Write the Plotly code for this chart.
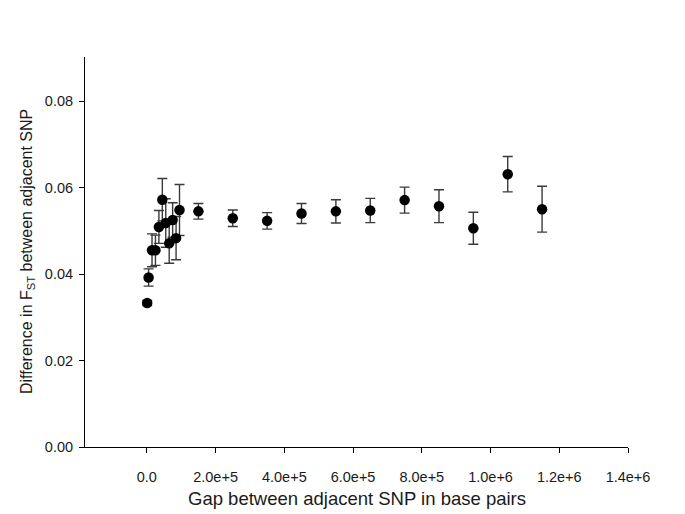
import plotly.graph_objects as go

# Data
gap_bp = [1000, 5000, 15000, 25000, 35000, 45000, 55000, 65000, 75000, 85000, 95000,
          150000, 250000, 350000, 450000, 550000, 650000, 750000, 850000, 950000,
          1050000, 1150000]
fst_diff = [0.0333, 0.0392, 0.0455, 0.0455, 0.0509, 0.0572, 0.0518, 0.0471, 0.0525,
            0.0483, 0.0548, 0.0545, 0.0529, 0.0523, 0.0540, 0.0545, 0.0547, 0.0571,
            0.0557, 0.0506, 0.0631, 0.0550]
fst_err = [0.0006, 0.0020, 0.0038, 0.0035, 0.0038, 0.0049, 0.0056, 0.0046, 0.0040,
           0.0050, 0.0059, 0.0018, 0.0019, 0.0019, 0.0023, 0.0027, 0.0028, 0.0030,
           0.0038, 0.0037, 0.0041, 0.0053]

x_tickvals = [0, 200000, 400000, 600000, 800000, 1000000, 1200000, 1400000]
x_ticktext = ["0.0", "2.0e+5", "4.0e+5", "6.0e+5", "8.0e+5", "1.0e+6", "1.2e+6", "1.4e+6"]
y_tickvals = [0.00, 0.02, 0.04, 0.06, 0.08]
y_ticktext = ["0.00", "0.02", "0.04", "0.06", "0.08"]

x_title = "Gap between adjacent SNP in base pairs"
y_title = "Difference in F<sub>ST</sub> between adjacent SNP"

FONT = "Liberation Sans, Arial, sans-serif"
TXT = "#1a1a1a"

fig = go.Figure()
fig.add_trace(go.Scatter(
    x=gap_bp, y=fst_diff, mode="markers",
    marker=dict(color="black", size=10.5, line=dict(width=0)),
    error_y=dict(type="data", array=fst_err, visible=True,
                 color="#3a3a3a", thickness=1.4, width=5),
    showlegend=False,
))

fig.update_layout(
    width=685, height=514,
    margin=dict(l=85, r=57, t=57, b=67),
    paper_bgcolor="white", plot_bgcolor="white",
    font=dict(family=FONT, color=TXT, size=14.5),
    xaxis=dict(
        range=[-180000, 1400000], automargin=False,
        tickvals=x_tickvals, ticktext=x_ticktext,
        showline=True, linecolor="black", linewidth=1,
        ticks="outside", ticklen=5, tickcolor="black", tickwidth=1,
        showgrid=False, zeroline=False,
        ticklabelstandoff=12,
        tickfont=dict(size=14.5, family=FONT, color=TXT),
    ),
    yaxis=dict(
        range=[0, 0.0902], automargin=False,
        tickvals=y_tickvals, ticktext=y_ticktext,
        showline=True, linecolor="black", linewidth=1,
        ticks="outside", ticklen=5, tickcolor="black", tickwidth=1,
        showgrid=False, zeroline=False,
        ticklabelstandoff=3,
        tickfont=dict(size=14.5, family=FONT, color=TXT),
    ),
    annotations=[
        dict(text=x_title, xref="paper", yref="paper", x=0.5, y=0,
             xanchor="center", yanchor="middle", yshift=-51, showarrow=False,
             font=dict(size=18.5, family=FONT, color=TXT)),
        dict(text=y_title, xref="paper", yref="paper", x=0, y=0.5,
             xanchor="center", yanchor="middle", xshift=-58, textangle=-90,
             showarrow=False, font=dict(size=16, family=FONT, color=TXT)),
    ],
)

# Remove the default 8px page margin so the 685x514 figure fills the window exactly
fig.write_html("out.html",
               config={"displayModeBar": False},
               post_script="document.body.style.margin='0px';document.body.style.overflow='hidden';")
